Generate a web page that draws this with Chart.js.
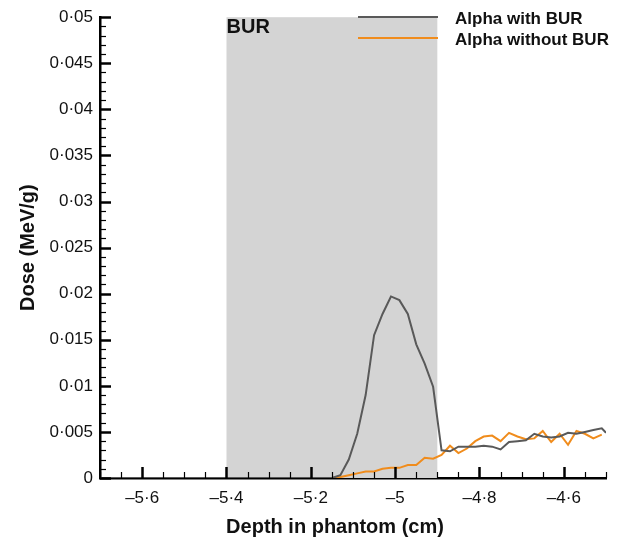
<html>
<head>
	<title>Dose vs depth</title>
	<script src="https://cdn.jsdelivr.net/npm/chart.js"></script>
	<style>
		body {
			margin: 0;
			background: #fff;
		}
		#wrap {
			width: 617px;
			height: 550px;
		}
	</style>
</head>
<body>
	<div id="wrap">
		<canvas id="myChart" width="617" height="550"></canvas>
	</div>

	<script>
		// depth (cm) and dose (MeV/g)
		var depthWith = [ -5.70, -5.15, -5.13, -5.11, -5.09, -5.07, -5.05, -5.03, -5.01, -4.99, -4.97, -4.95, -4.93, -4.91,
			-4.89, -4.87, -4.85, -4.83, -4.81, -4.79, -4.77, -4.75, -4.73, -4.71, -4.69, -4.67, -4.65, -4.63, -4.61,
			-4.59, -4.57, -4.55, -4.53, -4.51, -4.50 ];
		var doseWith = [ 0, 0, 0.0003, 0.0020, 0.0048, 0.0090, 0.0155, 0.0178, 0.0197, 0.0193, 0.0178, 0.0145, 0.0124, 0.0099,
			0.0030, 0.0029, 0.0034, 0.0034, 0.0034, 0.0035, 0.0034, 0.0031, 0.0039, 0.0040, 0.0041, 0.0048, 0.0045, 0.0044, 0.0045,
			0.0049, 0.0048, 0.0050, 0.0052, 0.0054, 0.0049 ];

		var depthWithout = [ -5.17, -5.15, -5.13, -5.11, -5.09, -5.07, -5.05, -5.03, -5.01, -4.99, -4.97, -4.95, -4.93, -4.91,
			-4.89, -4.87, -4.85, -4.83, -4.81, -4.79, -4.77, -4.75, -4.73, -4.71, -4.69, -4.67, -4.65, -4.63, -4.61,
			-4.59, -4.57, -4.55, -4.53, -4.51 ];
		var doseWithout = [ 0, 0, 0.0001, 0.0003, 0.0005, 0.0007, 0.0007, 0.0010, 0.0011, 0.0011, 0.0014, 0.0014, 0.0022, 0.0021,
			0.0025, 0.0035, 0.0027, 0.0032, 0.0040, 0.0045, 0.0046, 0.0040, 0.0049, 0.0045, 0.0042, 0.0043, 0.0051, 0.0039, 0.0048,
			0.0036, 0.0051, 0.0048, 0.0043, 0.0047 ];

		var seriesNames = [ 'Alpha with BUR', 'Alpha without BUR' ];
		var seriesColors = [ '#595959', '#f08c1c' ];

		var xTickValues = [ -5.6, -5.4, -5.2, -5.0, -4.8, -4.6 ];
		var xTickLabels = [ '\u20135\u00b76', '\u20135\u00b74', '\u20135\u00b72', '\u20135', '\u20134\u00b78', '\u20134\u00b76' ];
		var yTickValues = [ 0, 0.005, 0.01, 0.015, 0.02, 0.025, 0.03, 0.035, 0.04, 0.045, 0.05 ];
		var yTickLabels = [ '0', '0\u00b7005', '0\u00b701', '0\u00b7015', '0\u00b702', '0\u00b7025', '0\u00b703', '0\u00b7035', '0\u00b704', '0\u00b7045', '0\u00b705' ];

		var burStart = -5.4;
		var burEnd = -4.9;

		var FONT = '"Liberation Sans", Arial, sans-serif';

		function toPoints( xs, ys ) {
			var pts = [];
			for( var i = 0; i < xs.length; i++ ) {
				pts.push( { x: xs[ i ], y: ys[ i ] } );
			}
			return pts;
		}

		// grey band for the BUR layer, behind the lines
		var bandPlugin = {
			id: 'band',
			beforeDatasetsDraw: function( chart ) {
				var ctx = chart.ctx;
				var a = chart.chartArea;
				var x = chart.scales.x;
				var l = x.getPixelForValue( burStart );
				var r = x.getPixelForValue( burEnd );
				ctx.save();
				ctx.fillStyle = '#d4d4d4';
				ctx.fillRect( l, a.top, r - l, a.bottom - a.top );
				ctx.fillStyle = '#111';
				ctx.font = 'bold 20px ' + FONT;
				ctx.textBaseline = 'alphabetic';
				ctx.fillText( 'BUR', l, a.top + 16 );
				ctx.restore();
			}
		};

		// inward tick marks, titles and the legend
		var decoPlugin = {
			id: 'deco',
			afterDraw: function( chart ) {
				var ctx = chart.ctx;
				var a = chart.chartArea;
				var xs = chart.scales.x;
				var ys = chart.scales.y;
				ctx.save();
				ctx.strokeStyle = '#000';

				// x ticks
				for( var v = -5.7; v <= -4.5 + 1e-9; v += 0.05 ) {
					var px = Math.round( xs.getPixelForValue( v ) ) + 0.5;
					var major = Math.abs( Math.round( v * 5 ) - v * 5 ) < 1e-6;
					ctx.lineWidth = major ? 2.5 : 1.2;
					ctx.beginPath();
					ctx.moveTo( px, a.bottom );
					ctx.lineTo( px, a.bottom - ( major ? 11 : 6 ) );
					ctx.stroke();
				}

				// y ticks
				for( var i = 0; i <= 50; i++ ) {
					var py = Math.round( ys.getPixelForValue( i * 0.001 ) ) + 0.5;
					var maj = i % 5 === 0;
					ctx.lineWidth = maj ? 2.5 : 1.2;
					ctx.beginPath();
					ctx.moveTo( a.left, py );
					ctx.lineTo( a.left + ( maj ? 11 : 6 ), py );
					ctx.stroke();
				}

				// axis titles
				ctx.fillStyle = '#111';
				ctx.font = 'bold 20px ' + FONT;
				ctx.textAlign = 'center';
				ctx.textBaseline = 'middle';
				ctx.fillText( 'Depth in phantom (cm)', 335, 527 );

				ctx.translate( 28, ( a.top + a.bottom ) / 2 );
				ctx.rotate( -Math.PI / 2 );
				ctx.fillText( 'Dose (MeV/g)', 0, 0 );
				ctx.setTransform( 1, 0, 0, 1, 0, 0 );

				// legend
				var lx0 = 358, lx1 = 438;
				var rows = [ 17, 38 ];
				ctx.textAlign = 'left';
				ctx.textBaseline = 'alphabetic';
				ctx.font = 'bold 17px ' + FONT;
				for( var k = 0; k < seriesNames.length; k++ ) {
					ctx.strokeStyle = seriesColors[ k ];
					ctx.lineWidth = 2;
					ctx.beginPath();
					ctx.moveTo( lx0, rows[ k ] );
					ctx.lineTo( lx1, rows[ k ] );
					ctx.stroke();
					ctx.fillStyle = '#111';
					ctx.fillText( seriesNames[ k ], 455, rows[ k ] + 7 );
				}
				ctx.restore();
			}
		};

		new Chart( document.getElementById( 'myChart' ), {
			type: 'line',
			data: {
				datasets: [
					{
						label: seriesNames[ 0 ],
						data: toPoints( depthWith, doseWith ),
						borderColor: seriesColors[ 0 ],
						borderWidth: 2,
						pointRadius: 0,
						tension: 0,
						fill: false
					},
					{
						label: seriesNames[ 1 ],
						data: toPoints( depthWithout, doseWithout ),
						borderColor: seriesColors[ 1 ],
						borderWidth: 2,
						pointRadius: 0,
						tension: 0,
						fill: false
					}
				]
			},
			options: {
				responsive: false,
				animation: false,
				layout: {
					padding: { top: 16, right: 11, left: 0, bottom: 0 }
				},
				plugins: {
					legend: { display: false },
					tooltip: { enabled: false }
				},
				scales: {
					x: {
						type: 'linear',
						min: -5.7,
						max: -4.5,
						grid: { display: false, drawTicks: false },
						border: { display: true, color: '#000', width: 2.5 },
						afterBuildTicks: function( scale ) {
							scale.ticks = xTickValues.map( function( v ) { return { value: v }; } );
						},
						afterFit: function( scale ) {
							scale.height = 72;
						},
						ticks: {
							autoSkip: false,
							maxRotation: 0,
							padding: 10,
							color: '#111',
							font: { family: FONT, size: 17 },
							callback: function( value ) {
								var idx = xTickValues.findIndex( function( t ) { return Math.abs( t - value ) < 1e-9; } );
								return idx >= 0 ? xTickLabels[ idx ] : '';
							}
						}
					},
					y: {
						min: 0,
						max: 0.05,
						grid: { display: false, drawTicks: false },
						border: { display: true, color: '#000', width: 2.5 },
						afterBuildTicks: function( scale ) {
							scale.ticks = yTickValues.map( function( v ) { return { value: v }; } );
						},
						afterFit: function( scale ) {
							scale.width = 100;
						},
						ticks: {
							autoSkip: false,
							padding: 7,
							color: '#111',
							font: { family: FONT, size: 17 },
							callback: function( value ) {
								var idx = yTickValues.findIndex( function( t ) { return Math.abs( t - value ) < 1e-9; } );
								return idx >= 0 ? yTickLabels[ idx ] : '';
							}
						}
					}
				}
			},
			plugins: [ bandPlugin, decoPlugin ]
		});
	</script>
</body>
</html>
